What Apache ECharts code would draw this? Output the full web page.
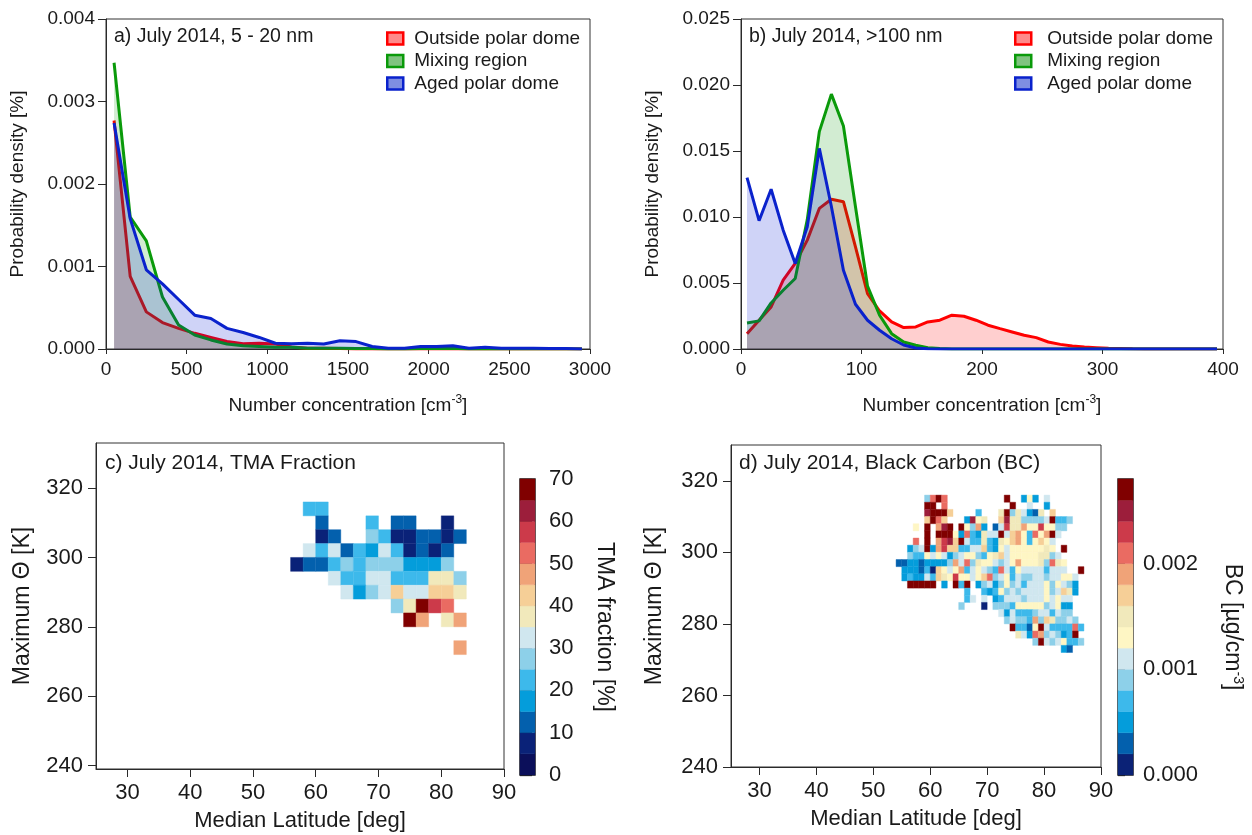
<!DOCTYPE html>
<html>
<head>
<meta charset="utf-8">
<script src="https://cdn.jsdelivr.net/npm/echarts@6/dist/echarts.min.js"></script>
<style>html,body{margin:0;padding:0;background:#fff}#chart{width:1252px;height:835px}</style>
</head>
<body>
<div id="chart"></div>
<script>
const _ = null;

// ---------- Panel a: 5 - 20 nm ----------
const sizeA = [50,150,250,350,450,550,650,750,850,950,1050,1150,1250,1350,1450,1550,1650,1750,1850,1950,2050,2150,2250,2350,2450,2550,2650,2750,2850,2950];
const outsideA = [0.00277,0.00088,0.00045,0.00032,0.00025,0.00019,0.00014,0.00009,0.000065,0.00007,0.00006,0.000025,0.00001,0.00001,0.000005,0,0,0,0,0,0,0,0,0,0,0,0,0,0,0];
const mixingA  = [0.00347,0.0016,0.00131,0.00063,0.00029,0.00017,0.00011,0.00006,0.00004,0.00003,0.00002,0.00002,0.00001,0.00001,0.00001,0.000005,0.000005,0,0,0.000005,0.000005,0.00001,0,0,0,0,0,0,0,0];
const agedA    = [0.00274,0.00158,0.00096,0.00079,0.00060,0.00041,0.00037,0.00025,0.00020,0.00014,0.00007,0.000065,0.00007,0.00006,0.0001,0.00009,0.00003,0.00001,0.00001,0.00003,0.00003,0.00004,0.00001,0.00002,0.00001,0.00001,0.00001,0.000005,0.000005,0];

// ---------- Panel b: >100 nm ----------
const sizeB = [5,15,25,35,45,55,65,75,85,95,105,115,125,135,145,155,165,175,185,195,205,215,225,235,245,255,265,275,285,295,305,315,325,335,345,355,365,375,385,395];
const outsideB = [0.00116,0.00218,0.00319,0.00521,0.00648,0.00825,0.01065,0.01134,0.01116,0.00774,0.0042,0.00288,0.00205,0.00162,0.00167,0.00205,0.00218,0.00256,0.00248,0.00218,0.0018,0.00154,0.00129,0.00104,0.00086,0.00053,0.00035,0.00023,0.00015,0.0001,0.00005,0.00003,0.00001,0,0,0,0,0,0,0];
const mixingB  = [0.00197,0.00213,0.00349,0.00445,0.00534,0.0098,0.01647,0.01931,0.0169,0.01078,0.00476,0.00256,0.00116,0.00053,0.00028,0.0001,0.00004,0,0,0,0,0,0,0,0,0,0,0,0,0,0,0,0,0,0,0,0,0,0,0];
const agedB    = [0.01298,0.00972,0.0121,0.009,0.00648,0.00926,0.0152,0.0108,0.00597,0.00339,0.00218,0.00142,0.00078,0.0003,0.00008,0.00002,0,0,0,0,0,0,0,0,0,0,0,0,0,0,0,0,0,0,0,0,0,0,0,0];

// ---------- Panel c: TMA fraction [%], 2 deg x 4 K bins (lower edges) ----------
const tmaLat = [56,58,60,62,64,66,68,70,72,74,76,78,80,82];
const tmaTheta = [312,308,304,300,296,292,288,284,280,276,272];
const tmaGrid = [
  [_,22.5,22.5,_,_,_,_,_,_,_,_,_,_,_],
  [_,_,12.5,_,_,_,22.5,_,12.5,12.5,_,_,7.5,_],
  [_,_,7.5,12.5,_,_,27.5,22.5,7.5,7.5,12.5,12.5,7.5,12.5],
  [_,32.5,22.5,32.5,12.5,22.5,17.5,32.5,22.5,7.5,12.5,7.5,12.5,_],
  [7.5,12.5,12.5,22.5,27.5,22.5,27.5,27.5,27.5,17.5,17.5,17.5,27.5,_],
  [_,_,_,32.5,22.5,22.5,32.5,32.5,22.5,22.5,22.5,37.5,37.5,27.5],
  [_,_,_,_,32.5,17.5,27.5,32.5,42.5,32.5,32.5,42.5,42.5,37.5],
  [_,_,_,_,_,_,_,_,27.5,37.5,67.5,57.5,52.5,_],
  [_,_,_,_,_,_,_,_,_,67.5,47.5,_,37.5,47.5],
  [_,_,_,_,_,_,_,_,_,_,_,_,_,_],
  [_,_,_,_,_,_,_,_,_,_,_,_,_,47.5]
];
const tmaLevels = [0,5,10,15,20,25,30,35,40,45,50,55,60,65,70];
const tmaColors = ['#0b0f5a','#0a2278','#0360ad','#049ddb','#3db9eb','#8dd0e9','#d0e7ef','#f1e9bb','#f6cf97','#f0a378','#ea6b62','#cc3a4a','#9c1e3b','#800000'];

// ---------- Panel d: BC [µg/cm^-3] in units of 1e-4, 1 deg x 2 K bins (lower edges) ----------
const BC_UNIT = 1e-4;
const bcLat = [54,55,56,57,58,59,60,61,62,63,64,65,66,67,68,69,70,71,72,73,74,75,76,77,78,79,80,81,82,83,84,85,86];
const bcTheta = [314,312,310,308,306,304,302,300,298,296,294,292,290,288,286,284,282,280,278,276,274,272];
const bcGrid = [
  [_,_,_,_,_,9,21,27,21,_,_, _,_,_,_,_,_,_,_,27,_,_, 5,13,5,_,11,_,_,_,_,_,_],
  [_,_,_,_,_,27,27,_,21,_,_, _,_,_,_,_,_,_,_,_,27,_, _,11,_,_,5,_,_,_,_,_,_],
  [_,_,_,_,_,25,27,27,27,17,_, _,_,_,7,_,_,_,15,27,9,15, 11,5,3,15,_,17,_,_,_,_,_],
  [_,_,_,_,_,17,27,21,17,_,_, _,5,25,13,15,_,_,17,25,15,15, 9,9,9,9,11,27,7,7,9,_,_],
  [_,_,_,13,_,27,_,19,25,27,_, 27,13,9,19,5,_,3,11,23,15,15, 19,13,13,23,13,13,9,9,_,_,_],
  [_,_,_,_,_,27,_,27,27,27,13, 5,21,7,5,15,11,11,27,11,17,19, 13,7,21,13,19,27,11,_,_,_,_],
  [_,_,_,21,_,27,_,19,23,25,17, 27,11,7,7,15,7,5,15,13,17,19, 13,7,13,17,13,11,_,_,_,_,_],
  [_,_,5,9,11,27,5,19,23,17,17, 7,7,11,11,17,7,5,13,11,13,13, 13,13,13,13,15,13,_,27,_,_,_],
  [_,_,9,7,7,13,11,13,11,5,9, 11,13,13,9,7,13,15,17,11,13,13, 13,13,13,15,15,9,11,_,_,_,_],
  [3,3,5,5,3,5,5,5,5,9,19, 11,21,9,15,13,13,11,9,11,13,19, 13,13,13,15,9,21,15,13,_,_,_],
  [_,5,5,5,3,7,1,17,13,11,13, 19,7,11,13,11,9,7,21,11,7,13, 11,11,11,11,7,11,11,11,_,_,27],
  [_,5,7,5,5,11,7,17,15,13,23, 13,13,11,13,17,21,9,11,13,7,11, 9,9,11,11,9,11,11,13,13,11,_],
  [_,_,27,27,27,27,27,_,5,_,27, 7,27,_,5,9,11,5,9,13,9,11, 7,11,11,11,13,9,13,11,9,5,_],
  [_,_,_,_,_,_,_,_,_,_,_, _,7,_,_,7,5,7,13,9,11,9, 11,11,11,11,13,9,11,17,15,5,_],
  [_,_,_,_,_,_,_,_,_,_,_, _,7,11,_,11,_,5,7,11,11,11, 9,11,11,11,13,11,13,11,11,_,_],
  [_,_,_,_,_,_,_,_,_,_,_, 9,_,_,_,1,_,9,9,9,7,13, 13,13,13,13,9,11,13,5,5,_,_],
  [_,_,_,_,_,_,_,_,_,_,_, _,_,_,_,_,_,_,11,5,11,7, 7,7,9,11,11,7,11,9,9,_,_],
  [_,_,_,_,_,_,_,_,_,_,_, _,_,_,_,_,_,_,_,9,11,9, 9,7,19,9,17,15,9,9,11,9,_],
  [_,_,_,_,_,_,_,_,_,_,_, _,_,_,_,_,_,_,_,_,27,7, 7,3,13,27,11,7,7,7,7,21,7],
  [_,_,_,_,_,_,_,_,_,_,_, _,_,_,_,_,_,_,_,_,_,15, 11,5,21,19,9,11,9,5,7,27,_],
  [_,_,_,_,_,_,_,_,_,_,_, _,_,_,_,_,_,_,_,_,_,_, _,_,9,27,11,9,11,13,7,7,9],
  [_,_,_,_,_,_,_,_,_,_,_, _,_,_,_,_,_,_,_,_,_,_, _,_,_,_,_,_,_,5,3,_,_]
];
const bcLevels = [0,0.0002,0.0004,0.0006,0.0008,0.001,0.0012,0.0014,0.0016,0.0018,0.002,0.0022,0.0024,0.0026,0.0028];
const bcColors = ['#0b2276','#0360ad','#049ddb','#3db9eb','#8dd0e9','#d0e7ef','#fef6c4','#f1e9bb','#f6cf97','#f0a378','#ea6b62','#cc3a4a','#9c1e3b','#800000'];

// ---------- tick labels ----------
const latTicks = [30,40,50,60,70,80,90];
const thetaTicks = [240,260,280,300,320];
const bcTicks = [0,0.001,0.002];

const FONT = "'Liberation Sans', Arial, Helvetica, sans-serif";
const TXT = '#1a1a1a';
const AX = '#2a2a2a';

function pairs(xs, ys){ return xs.map((x,i)=>[x, ys[i]]); }
function cells(lats, thetas, grid, scale){
  const out = [];
  grid.forEach((row, r) => row.forEach((v, c) => { if (v !== null) out.push([lats[c], thetas[r], v*scale]); }));
  return out;
}
function cellRender(dLat, dTh){
  return function(params, api){
    const x0 = api.value(0), y0 = api.value(1);
    const p1 = api.coord([x0, y0 + dTh]);
    const p2 = api.coord([x0 + dLat, y0]);
    const col = api.visual('color');
    return {type:'rect', shape:{x:p1[0], y:p1[1], width:p2[0]-p1[0], height:p2[1]-p1[1]},
            style:{fill: col, stroke: col, lineWidth: 0.4}};
  };
}
function barRender(colors){
  return function(params, api){
    const p1 = api.coord([0, api.value(1)]);
    const p2 = api.coord([1, api.value(0)]);
    return {type:'rect', shape:{x:p1[0], y:p1[1], width:p2[0]-p1[0], height:p2[1]-p1[1]},
            style:{fill: colors[params.dataIndex], stroke: colors[params.dataIndex], lineWidth:0.4}};
  };
}
function pieces(levels, colors){
  return colors.map((c,i)=>({gte: levels[i], lt: levels[i+1], color: c}));
}
function bands(levels){ return levels.slice(0,-1).map((lo,i)=>[lo, levels[i+1]]); }

const names = ['Outside polar dome','Mixing region','Aged polar dome'];
const lineCols = ['#ff0000','#0a9a0a','#0a22cc'];
const fillCols = ['rgba(255,0,0,0.27)','rgba(0,150,0,0.25)','rgba(0,20,210,0.27)'];
const legIcon = [
  {name: names[0], itemStyle:{color:'#ff8a8a', borderColor:'#ff0000', borderWidth:2.5}},
  {name: names[1], itemStyle:{color:'#80c480', borderColor:'#0a9a0a', borderWidth:2.5}},
  {name: names[2], itemStyle:{color:'#7f8ee2', borderColor:'#0a22cc', borderWidth:2.5}}
];

function lineSeries(i, xs, ys, axis){
  return {type:'line', name:names[i], xAxisIndex:axis, yAxisIndex:axis, data:pairs(xs, ys), z: 2 + i,
    showSymbol:false, symbol:'none', lineStyle:{color:lineCols[i], width:3}, itemStyle:{color:lineCols[i]},
    areaStyle:{color:fillCols[i], origin:'start'}, silent:true};
}

const baseText = {fontFamily: FONT, color: TXT};
function probX(gi, min, max, interval){
  return {gridIndex:gi, type:'value', min, max, interval,
    axisLine:{show:true, lineStyle:{color:AX, width:1}}, axisTick:{show:true, length:5, lineStyle:{color:AX}},
    axisLabel:{...baseText, fontSize:19, margin:11, formatter:(v)=>String(v)}, splitLine:{show:false},
    name:'Number concentration [cm{sup|-3}]', nameLocation:'middle', nameGap:45,
    nameTextStyle:{...baseText, fontSize:19, rich:{sup:{...baseText, fontSize:12, verticalAlign:'top', padding:[0,0,11,0]}}}};
}
function probY(gi, max, interval){
  return {gridIndex:gi, type:'value', min:0, max, interval,
    axisLine:{show:true, lineStyle:{color:AX, width:1}}, axisTick:{show:true, length:8, lineStyle:{color:AX}},
    axisLabel:{...baseText, fontSize:19, margin:11, formatter:(v)=>v.toFixed(3)}, splitLine:{show:false},
    name:'Probability density [%]', nameLocation:'middle', nameGap:79, nameRotate:90,
    nameTextStyle:{...baseText, fontSize:19}};
}
function latX(gi){
  return {gridIndex:gi, type:'value', min:25, max:90,
    axisLine:{show:true, lineStyle:{color:AX, width:1}},
    axisTick:{show:true, length:8, customValues:latTicks, lineStyle:{color:AX}},
    axisLabel:{...baseText, fontSize:22, margin:13, customValues:latTicks}, splitLine:{show:false},
    name:'Median Latitude [deg]', nameLocation:'middle', nameGap:41, nameTextStyle:{...baseText, fontSize:22}};
}
function thetaY(gi, min, max, gap){
  return {gridIndex:gi, type:'value', min, max,
    axisLine:{show:true, lineStyle:{color:AX, width:1}},
    axisTick:{show:true, length:8, customValues:thetaTicks, lineStyle:{color:AX}},
    axisLabel:{...baseText, fontSize:22, margin:13, customValues:thetaTicks}, splitLine:{show:false},
    name:'Maximum \u0398 [K]', nameLocation:'middle', nameGap:gap, nameRotate:90, nameTextStyle:{...baseText, fontSize:23}};
}

const option = {
  animation:false,
  backgroundColor:'#ffffff',
  textStyle:{fontFamily:FONT},
  title:[
    {text:'a) July 2014, 5 - 20 nm', left:114, top:27, padding:0, textStyle:{...baseText, fontSize:19.5, fontWeight:'normal'}},
    {text:'b) July 2014, >100 nm', left:749, top:27, padding:0, textStyle:{...baseText, fontSize:19.5, fontWeight:'normal'}},
    {text:'c) July 2014, TMA Fraction', left:105, top:453, padding:0, textStyle:{...baseText, fontSize:21, fontWeight:'normal'}},
    {text:'d) July 2014, Black Carbon (BC)', left:739, top:453, padding:0, textStyle:{...baseText, fontSize:21, fontWeight:'normal'}}
  ],
  legend:[
    {left:386, top:29, orient:'vertical', icon:'rect', itemWidth:16, itemHeight:12, itemGap:3.5, padding:0,
     selectedMode:false, textStyle:{...baseText, fontSize:19, padding:[0,0,0,6]}, data:legIcon},
    {left:1014, top:29, orient:'vertical', icon:'rect', itemWidth:16, itemHeight:12, itemGap:3.5, padding:0,
     selectedMode:false, textStyle:{...baseText, fontSize:19, padding:[0,0,0,11]}, data:legIcon}
  ],
  grid:[
    {left:106, top:19, width:484, height:330, show:true, borderColor:'#333', borderWidth:1, backgroundColor:'transparent'},
    {left:741, top:19, width:482, height:330, show:true, borderColor:'#333', borderWidth:1, backgroundColor:'transparent'},
    {left:96, top:443, width:408, height:326, show:true, borderColor:'#333', borderWidth:1, backgroundColor:'transparent'},
    {left:731, top:445, width:370, height:322, show:true, borderColor:'#333', borderWidth:1, backgroundColor:'transparent'},
    {left:520, top:479, width:15, height:296, show:true, borderColor:'#222', borderWidth:1.5, backgroundColor:'transparent'},
    {left:1118, top:479, width:15, height:296, show:true, borderColor:'#222', borderWidth:1.5, backgroundColor:'transparent'}
  ],
  xAxis:[
    probX(0, 0, 3000, 500),
    probX(1, 0, 400, 100),
    latX(2),
    latX(3),
    {gridIndex:4, type:'value', min:0, max:1, show:false},
    {gridIndex:5, type:'value', min:0, max:1, show:false}
  ],
  yAxis:[
    probY(0, 0.004, 0.001),
    probY(1, 0.025, 0.005),
    thetaY(2, 239, 333, 62),
    thetaY(3, 240, 330, 65),
    {gridIndex:4, type:'value', min:0, max:70, interval:10, position:'right',
     axisLine:{show:false}, axisTick:{show:true, length:12, lineStyle:{color:'#222', width:1.3}},
     axisLabel:{...baseText, fontSize:22, margin:14}, splitLine:{show:false},
     name:'TMA fraction [%]', nameLocation:'middle', nameGap:58, nameRotate:-90, nameTextStyle:{...baseText, fontSize:23}},
    {gridIndex:5, type:'value', min:0, max:0.0028, position:'right',
     axisLine:{show:false}, axisTick:{show:true, length:7, customValues:bcTicks, lineStyle:{color:'#222', width:1.3}},
     axisLabel:{...baseText, fontSize:22, margin:10, customValues:bcTicks, formatter:(v)=>v.toFixed(3)}, splitLine:{show:false},
     name:'BC [\u00b5g/cm{sup|-3}]', nameLocation:'middle', nameGap:86, nameRotate:-90,
     nameTextStyle:{...baseText, fontSize:23, rich:{sup:{...baseText, fontSize:14, verticalAlign:'top', padding:[0,0,12,0]}}}}
  ],
  visualMap:[
    {type:'piecewise', show:false, seriesIndex:6, dimension:2, pieces:pieces(tmaLevels, tmaColors)},
    {type:'piecewise', show:false, seriesIndex:7, dimension:2, pieces:pieces(bcLevels, bcColors)}
  ],
  series:[
    lineSeries(0, sizeA, outsideA, 0),
    lineSeries(1, sizeA, mixingA, 0),
    lineSeries(2, sizeA, agedA, 0),
    lineSeries(0, sizeB, outsideB, 1),
    lineSeries(1, sizeB, mixingB, 1),
    lineSeries(2, sizeB, agedB, 1),
    {type:'custom', xAxisIndex:2, yAxisIndex:2, renderItem:cellRender(2, 4), encode:{x:0, y:1},
     data:cells(tmaLat, tmaTheta, tmaGrid, 1), silent:true},
    {type:'custom', xAxisIndex:3, yAxisIndex:3, renderItem:cellRender(1, 2), encode:{x:0, y:1},
     data:cells(bcLat, bcTheta, bcGrid, BC_UNIT), silent:true},
    {type:'custom', xAxisIndex:4, yAxisIndex:4, renderItem:barRender(tmaColors), encode:{y:[0,1]},
     data:bands(tmaLevels), silent:true},
    {type:'custom', xAxisIndex:5, yAxisIndex:5, renderItem:barRender(bcColors), encode:{y:[0,1]},
     data:bands(bcLevels), silent:true}
  ]
};
const chart = echarts.init(document.getElementById('chart'));
chart.setOption(option);
</script>
</body>
</html>
